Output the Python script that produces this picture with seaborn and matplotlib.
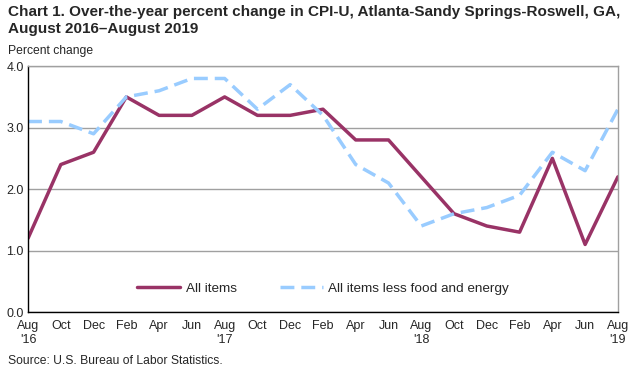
import numpy as np
import pandas as pd
import matplotlib
matplotlib.use("Agg")
import matplotlib.pyplot as plt
import seaborn as sns

# Data (bi-monthly, Aug 2016 - Aug 2019)
MONTHS = ["Aug", "Oct", "Dec", "Feb", "Apr", "Jun",
          "Aug", "Oct", "Dec", "Feb", "Apr", "Jun",
          "Aug", "Oct", "Dec", "Feb", "Apr", "Jun", "Aug"]
YEAR_LABELS = {0: "'16", 6: "'17", 12: "'18", 18: "'19"}
ALL_ITEMS = [1.2, 2.4, 2.6, 3.5, 3.2, 3.2, 3.5, 3.2, 3.2, 3.3,
             2.8, 2.8, 2.2, 1.6, 1.4, 1.3, 2.5, 1.1, 2.2]
LESS_FOOD_ENERGY = [3.1, 3.1, 2.9, 3.5, 3.6, 3.8, 3.8, 3.3, 3.7, 3.2,
                    2.4, 2.1, 1.4, 1.6, 1.7, 1.9, 2.6, 2.3, 3.3]

MAROON = "#993366"
LIGHT_BLUE = "#99ccff"


def build_frame():
    idx = np.arange(len(MONTHS))
    return pd.DataFrame({"idx": idx, "all": ALL_ITEMS, "core": LESS_FOOD_ENERGY})


def plot_chart(df):
    sns.set_style("white")
    plt.rcParams["font.family"] = ["Liberation Sans", "DejaVu Sans"]

    fig = plt.figure(figsize=(6.37, 3.76), dpi=100)
    ax = fig.add_axes([0.044, 0.170, 0.926, 0.654])

    sns.lineplot(data=df, x="idx", y="all", ax=ax, color=MAROON, lw=2.5,
                 label="All items")
    sns.lineplot(data=df, x="idx", y="core", ax=ax, color=LIGHT_BLUE, lw=2.5,
                 dashes=False, label="All items less food and energy")
    ax.lines[1].set_dashes([4, 2])

    ax.set_xlim(0, len(MONTHS) - 1)
    ax.set_ylim(0, 4)
    ax.set_yticks([0, 1, 2, 3, 4])
    ax.set_yticklabels(["0.0", "1.0", "2.0", "3.0", "4.0"], fontsize=9)
    ax.yaxis.grid(True, color="#a0a0a0", lw=1)
    ax.set_axisbelow(True)

    labels = [m + ("\n" + YEAR_LABELS[i] if i in YEAR_LABELS else "")
              for i, m in enumerate(MONTHS)]
    ax.set_xticks(df["idx"])
    ax.set_xticklabels(labels, fontsize=9, va="top")
    ax.tick_params(axis="x", direction="inout", length=7, width=1,
                   color="black", pad=2)
    ax.tick_params(axis="y", length=0, pad=3)
    ax.set_xlabel("")
    ax.set_ylabel("")

    for side in ["left", "bottom"]:
        ax.spines[side].set_color("black")
        ax.spines[side].set_linewidth(1)
    for side in ["top", "right"]:
        ax.spines[side].set_color("#a0a0a0")
        ax.spines[side].set_linewidth(1)

    ax.legend(loc="lower center", bbox_to_anchor=(0.5, 0.02), ncol=2,
              frameon=False, fontsize=9.7, handlelength=3.2,
              columnspacing=3.2, handletextpad=0.4)

    fig.text(0.013, 0.988, "Chart 1. Over-the-year percent change in CPI-U, "
             "Atlanta-Sandy Springs-Roswell, GA,\nAugust 2016\u2013August 2019",
             fontsize=11, fontweight="bold", va="top", ha="left",
             linespacing=1.3)
    fig.text(0.013, 0.848, "Percent change", fontsize=8.7, va="bottom", ha="left")
    fig.text(0.013, 0.025, "Source: U.S. Bureau of Labor Statistics.",
             fontsize=8.7, va="bottom", ha="left")

    fig.savefig("out.png", dpi=100)


def main():
    df = build_frame()
    plot_chart(df)


if __name__ == "__main__":
    main()
